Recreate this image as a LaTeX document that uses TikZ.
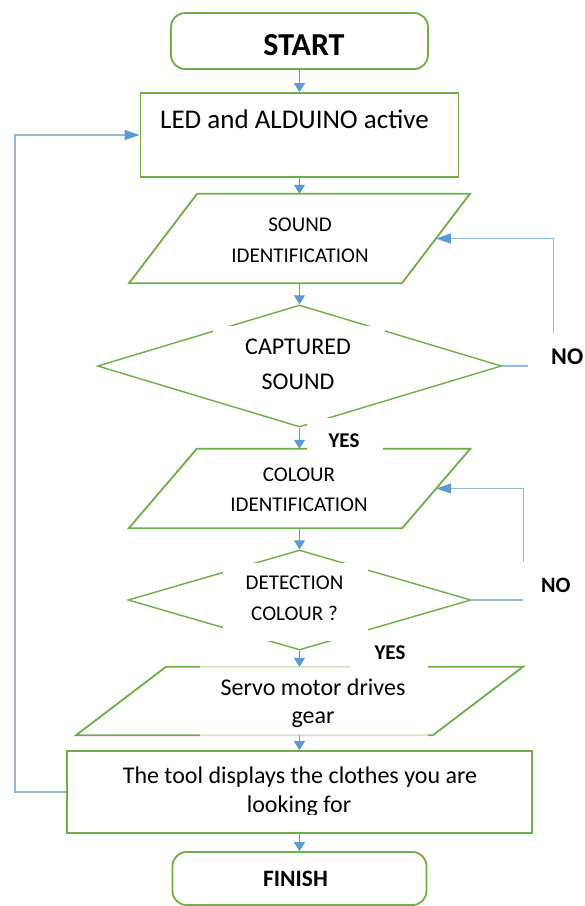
\documentclass[tikz,border=0pt]{standalone}
\usepackage{fontspec}
\setmainfont{Carlito}
\usetikzlibrary{arrows.meta,calc,shapes.geometric}
\definecolor{gr}{RGB}{112,173,71}
\definecolor{bl}{RGB}{91,155,213}
\definecolor{loopblue}{RGB}{150,185,225}
\newcommand\myfs[1]{\fontsize{#1}{#1}\selectfont}
\begin{document}
\begin{tikzpicture}[x=1pt,y=-1pt,
  box/.style={draw=gr,line width=1.8pt,rectangle,inner sep=0pt},
  term/.style={box,rounded corners=14pt},
  dia/.style={draw=gr,line width=1.4pt,diamond,inner sep=0pt},
  para/.style={rectangle,inner sep=0pt},
  gline/.style={draw=gr,line width=1.8pt},
  cover/.style={fill=white,draw=none,inner sep=0pt,rectangle},
  flow/.style={draw=bl,line width=1.1pt,-{Triangle[length=9pt,width=11pt]}},
  loopline/.style={draw=loopblue,line width=1.3pt,-{Triangle[length=15pt,width=10pt,color=bl]}},
  txt/.style={anchor=base,inner sep=0pt},
]
\useasboundingbox (0,0) rectangle (585,906);
\fill[white] (0,0) rectangle (585,906);
% shapes
\node[term,minimum width=257pt,minimum height=56pt] (start) at (299.5,41) {};
\node[box,minimum width=318pt,minimum height=84pt] (led) at (299.5,135) {};
\node[para,minimum width=272.5pt,minimum height=89pt] (sound) at (299.5,238.5) {};
\draw[gline] ($(sound.south west)+(-34,0)$) -- ($(sound.north west)+(34,0)$) -- ($(sound.north east)+(34,0)$) -- ($(sound.south east)+(-34,0)$) -- cycle;
\node[dia,minimum width=404pt,minimum height=122pt] (cap) at (299.5,366) {};
\node[para,minimum width=273pt,minimum height=79pt] (colour) at (299.5,488.5) {};
\draw[gline] ($(colour.south west)+(-34,0)$) -- ($(colour.north west)+(34,0)$) -- ($(colour.north east)+(34,0)$) -- ($(colour.south east)+(-34,0)$) -- cycle;
\node[dia,minimum width=343pt,minimum height=100pt] (det) at (299.5,600) {};
\node[para,minimum width=356.5pt,minimum height=68pt] (servo) at (299.5,701) {};
\draw[gline] ($(servo.south west)+(-45,0)$) -- ($(servo.north west)+(45,0)$) -- ($(servo.north east)+(45,0)$) -- ($(servo.south east)+(-45,0)$) -- cycle;
\node[box,minimum width=465pt,minimum height=82pt] (tool) at (299.5,792) {};
\node[term,minimum width=254pt,minimum height=53pt] (finish) at (299.5,878.5) {};
% loop connectors
\draw[loopline] (cap.east) -- ++(51,0) |- (sound.east);
\draw[loopline] (det.east) -- ++(52,0) |- (colour.east);
\draw[loopline] (tool.west) -- ++(-51,0) |- (led.west);
% white text backgrounds
\node[cover,minimum width=172pt,minimum height=72pt] (capbg) at (299,362) {};
\node[cover,minimum width=62pt,minimum height=52pt] (no1bg) at (559,359) {};
\node[cover,minimum width=76pt,minimum height=37pt] (yes1bg) at (345,436.5) {};
\node[cover,minimum width=145pt,minimum height=78pt] (detbg) at (295.5,602) {};
\node[cover,minimum width=67pt,minimum height=43pt] (no2bg) at (556.5,583.5) {};
\node[cover,fill opacity=0.7,minimum width=228pt,minimum height=78pt] (servobg) at (314,701) {};
\node[cover,minimum width=78pt,minimum height=31pt] (yes2bg) at (389,655.5) {};
% main flow
\draw[flow] (start.south) -- (led.north);
\draw[flow] (led.south) -- (sound.north);
\draw[flow] (sound.south) -- (cap.north);
\draw[flow] (cap.south) -- (colour.north);
\draw[flow] (colour.south) -- (det.north);
\draw[flow] (det.south) -- (servo.north);
\draw[flow] (servo.south) -- (tool.north);
\draw[flow] (tool.south) -- (finish.north);
% texts
\node[txt,font=\myfs{32}\bfseries] (tstart) at (304,55) {START};
\node[txt,font=\myfs{27}] (tled) at (294.5,128) {LED and ALDUINO active};
\node[txt,font=\myfs{21}] (tsound1) at (300,231) {SOUND};
\node[txt,font=\myfs{21}] (tsound2) at (300,262) {IDENTIFICATION};
\node[txt,font=\myfs{24}] (tcap1) at (298,354) {CAPTURED};
\node[txt,font=\myfs{24}] (tcap2) at (298,389) {SOUND};
\node[txt,font=\myfs{24}\bfseries,anchor=base west] (tno1) at (551,364) {NO};
\node[txt,font=\myfs{21}\bfseries] (tyes1) at (344,447) {YES};
\node[txt,font=\myfs{21}] (tcol1) at (299,481) {COLOUR};
\node[txt,font=\myfs{21}] (tcol2) at (299,511) {IDENTIFICATION};
\node[txt,font=\myfs{21}] (tdet1) at (294.5,589) {DETECTION};
\node[txt,font=\myfs{21}] (tdet2) at (294.5,620) {COLOUR ?};
\node[txt,font=\myfs{22}\bfseries,anchor=base west] (tno2) at (541,592) {NO};
\node[txt,font=\myfs{21}\bfseries] (tyes2) at (390,659) {YES};
\node[txt,font=\myfs{24}] (tservo1) at (313,695) {Servo motor drives};
\node[txt,font=\myfs{24}] (tservo2) at (313,723) {gear};
\node[txt,font=\myfs{24}] (ttool1) at (300,783) {The tool displays the clothes you are};
\begin{scope}
\clip (60,790) rectangle (540,814);
\node[txt,font=\myfs{24}] (ttool2) at (299,812) {looking for};
\end{scope}
\node[txt,font=\myfs{23.5}\bfseries] (tfinish) at (295.5,886) {FINISH};
\end{tikzpicture}
\end{document}
